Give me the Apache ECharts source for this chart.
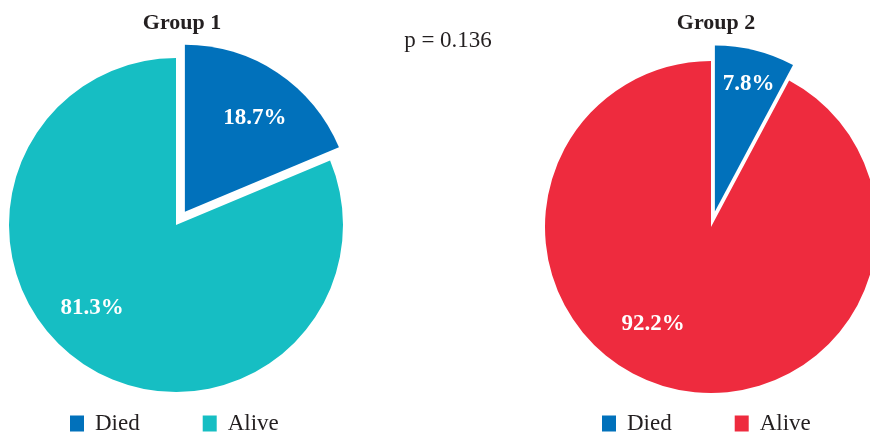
<!DOCTYPE html>
<html>
<head>
<meta charset="utf-8">
<script src="https://cdn.jsdelivr.net/npm/echarts@6/dist/echarts.min.js"></script>
<style>
  html, body { margin: 0; padding: 0; background: #fff; }
  #chart { width: 870px; height: 435px; }
</style>
</head>
<body>
<div id="chart"></div>
<script>
const categories = ['Died', 'Alive']
const group1Values = [18.7, 81.3]
const group2Values = [7.8, 92.2]
const groupTitles = ['Group 1', 'Group 2']
const pValueText = 'p = 0.136'

const blue = '#0171bb'
const teal = '#16bec3'
const red = '#ee2b3e'
const font = '"Liberation Serif", "Times New Roman", serif'

// nudges for the percent labels, per [series][dataIndex]
const labelNudge = [
    [[22, -22], [-36, 11]],
    [[13, -44], [-37, 14]]
]

function pieData(values, colors) {
    return values.map((v, i) => ({
        name: categories[i],
        value: v,
        selected: i === 0,
        itemStyle: { color: colors[i] }
    }))
}

function pieSeries(idx, values, colors, center, radius) {
    return {
        type: 'pie',
        center: center,
        radius: radius,
        startAngle: 90,
        clockwise: true,
        selectedMode: 'single',
        selectedOffset: 16,
        avoidLabelOverlap: false,
        label: {
            show: true,
            position: 'inside',
            formatter: p => p.value.toFixed(1) + '%',
            color: '#fff',
            fontFamily: font,
            fontWeight: 'bold',
            fontSize: 23
        },
        labelLine: { show: false },
        labelLayout: params => {
            const n = labelNudge[idx][params.dataIndex]
            return { dx: n[0], dy: n[1] }
        },
        itemStyle: { borderWidth: 0 },
        emphasis: { disabled: true },
        data: pieData(values, colors)
    }
}

function legend(left, colors) {
    return {
        left: left,
        top: 407,
        orient: 'horizontal',
        icon: 'rect',
        itemWidth: 14,
        itemHeight: 16,
        itemGap: 63,
        selectedMode: false,
        textStyle: {
            fontFamily: font,
            fontSize: 23,
            color: '#231f20',
            padding: [0, 0, 0, 6]
        },
        data: categories.map((c, i) => ({ name: c, itemStyle: { color: colors[i] } }))
    }
}

const chart = echarts.init(document.getElementById('chart'))
chart.setOption({
    animation: false,
    backgroundColor: '#fff',
    title: [
        {
            text: groupTitles[0], left: 177, top: 7, textAlign: 'center',
            textStyle: { fontFamily: font, fontSize: 22, fontWeight: 'bold', color: '#231f20' }
        },
        {
            text: groupTitles[1], left: 711, top: 7, textAlign: 'center',
            textStyle: { fontFamily: font, fontSize: 22, fontWeight: 'bold', color: '#231f20' }
        },
        {
            text: pValueText, left: 443, top: 24, textAlign: 'center',
            textStyle: { fontFamily: font, fontSize: 23, fontWeight: 'normal', color: '#231f20' }
        }
    ],
    legend: [legend(65, [blue, teal]), legend(597, [blue, red])],
    series: [
        pieSeries(0, group1Values, [blue, teal], [176, 225], 167),
        pieSeries(1, group2Values, [blue, red], [711, 227], 166)
    ]
})
</script>
</body>
</html>
